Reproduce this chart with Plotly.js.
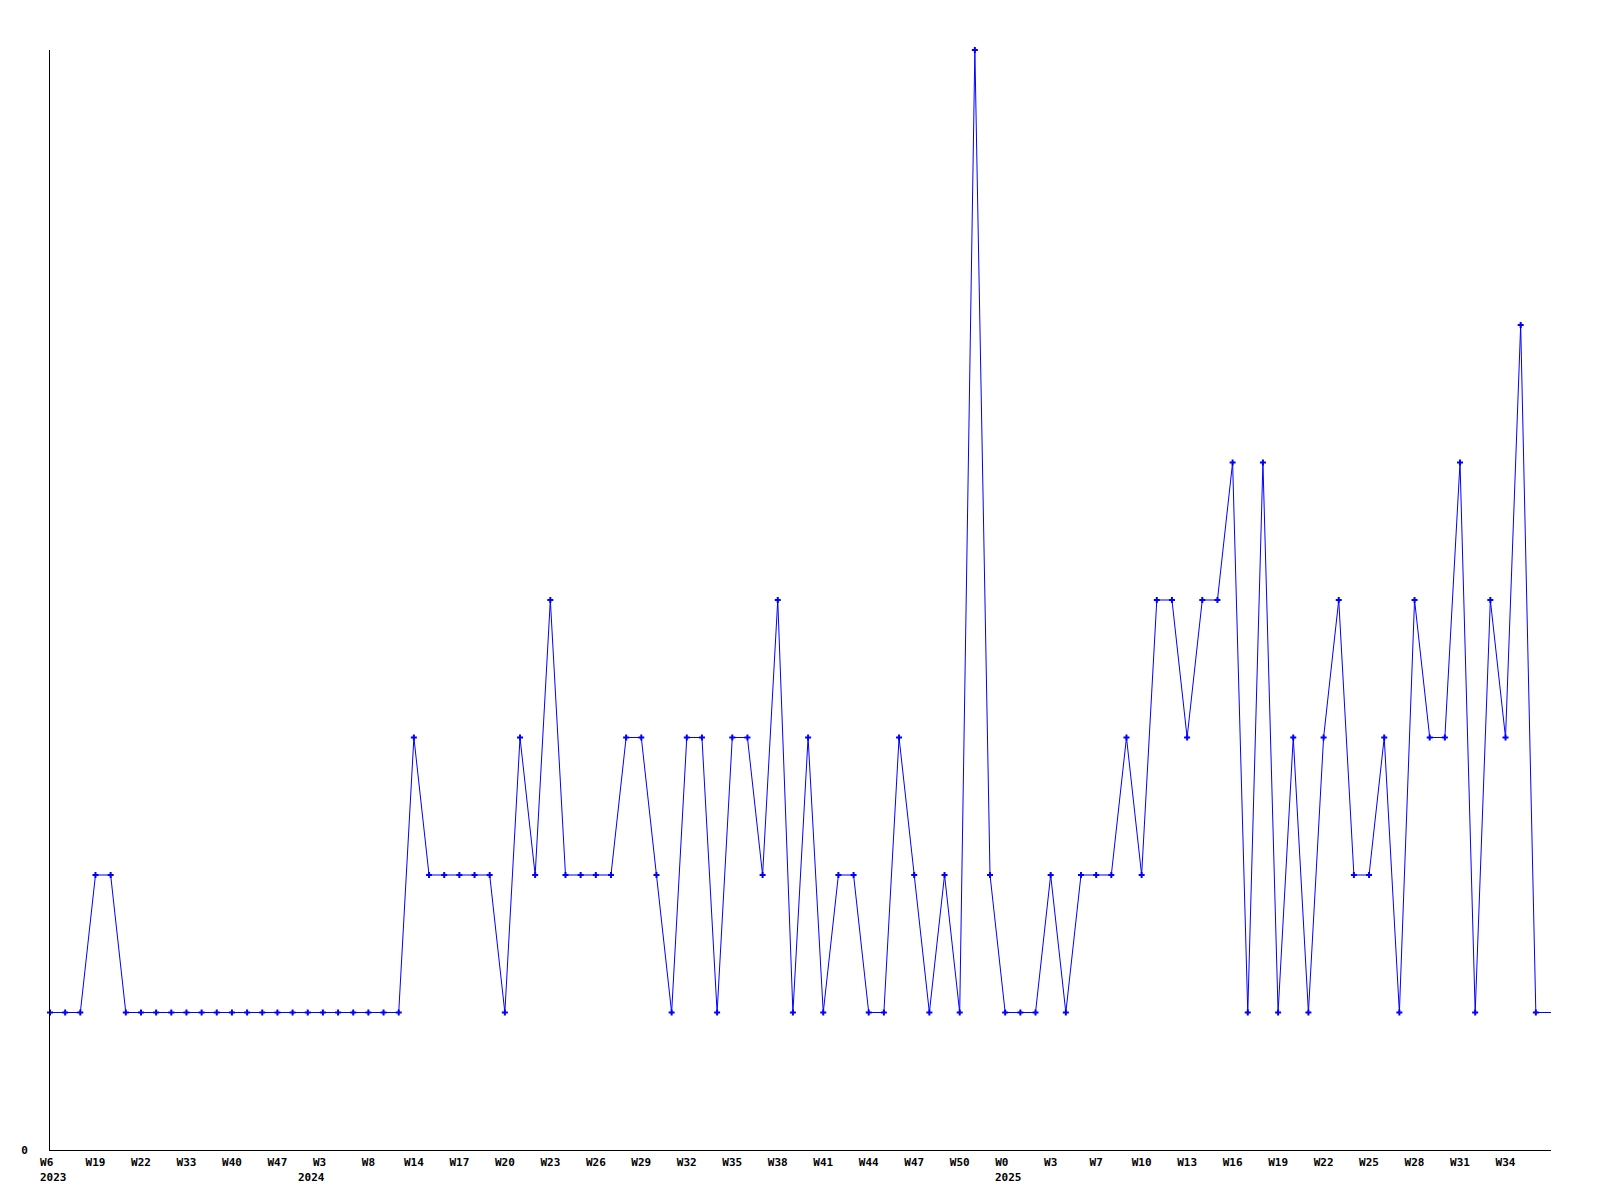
<!DOCTYPE html>
<html>
<head>
<meta charset="utf-8">
<script src="https://cdn.plot.ly/plotly-3.0.1.min.js"></script>
<style>html,body{margin:0;padding:0;background:#fff;}#chart{width:1600px;height:1200px;}</style>
</head>
<body>
<div id="chart"></div>
<script>
// Weekly values (one per point, in order)
const values = [
  1,1,1,2,2,1,1,1,1,1,
  1,1,1,1,1,1,1,1,1,1,
  1,1,1,1,3,2,2,2,2,2,
  1,3,2,4,2,2,2,2,3,3,
  2,1,3,3,1,3,3,2,4,1,
  3,1,2,2,1,1,3,2,1,2,
  1,8,2,1,1,1,2,1,2,2,
  2,3,2,4,4,3,4,4,5,1,
  5,1,3,1,3,4,2,2,3,1,
  4,3,3,5,1,4,3,6,1,1
];
// Week tick labels, one every third point
const tickLabels = [
  "W6","W19","W22","W33","W40","W47","W3","W8","W14","W17","W20",
  "W23","W26","W29","W32","W35","W38","W41","W44","W47","W50",
  "W0","W3","W7","W10","W13","W16","W19","W22","W25","W28","W31","W34"
];
const tickStep = 3;
// Year labels and the point index where each year starts
const years = ["2023", "2024", "2025"];
const yearAt = [0, 18, 63];

// styling: per-year label offsets (pixels)
const yearShift = [-11, -26, -11.5];

const nb = "\u00a0";
const xs = values.map((v, i) => i);
const tickVals = tickLabels.map((t, i) => i * tickStep);
const tickText = tickLabels.map((t, i) => yearAt.indexOf(i * tickStep) >= 0 ? t + nb : t);
const markerX = xs.slice(0, xs.length - 1);
const markerY = values.slice(0, values.length - 1);

const tfont = {family: "DejaVu Sans Mono, monospace", size: 11, color: "#000", weight: "bold"};

const data = [
  {x: xs, y: values, type: "scatter", mode: "lines",
   line: {color: "#0000ff", width: 1}, hoverinfo: "skip", showlegend: false},
  {x: markerX, y: markerY, type: "scatter", mode: "markers",
   marker: {color: "#0000ff", symbol: "cross", size: 5, line: {width: 0}},
   showlegend: false, cliponaxis: false}
];

const annotations = years.map((yr, k) => ({
  x: yearAt[k], xref: "x", y: 0, yref: "paper",
  xanchor: "left", yanchor: "middle", xshift: yearShift[k], yshift: -27,
  text: yr, showarrow: false, font: tfont, borderpad: 0
}));

const layout = {
  width: 1600, height: 1200,
  margin: {l: 50, r: 49, t: 50, b: 50, pad: 0},
  paper_bgcolor: "#fff", plot_bgcolor: "#fff",
  font: {family: "DejaVu Sans Mono, monospace", size: 11, color: "#000"},
  showlegend: false,
  annotations: annotations,
  xaxis: {
    range: [0, values.length - 1],
    tickmode: "array", tickvals: tickVals, ticktext: tickText,
    showgrid: false, zeroline: false, showline: true, linecolor: "#000", linewidth: 1,
    ticks: "", ticklabelstandoff: 2,
    tickfont: tfont, fixedrange: true
  },
  yaxis: {
    range: [0, 8],
    tickmode: "array", tickvals: [0], ticktext: ["0"],
    showgrid: false, zeroline: false, showline: true, linecolor: "#000", linewidth: 1,
    ticks: "", ticklabelstandoff: 19,
    tickfont: tfont, fixedrange: true
  }
};

Plotly.newPlot("chart", data, layout, {staticPlot: true, displayModeBar: false});
</script>
</body>
</html>
